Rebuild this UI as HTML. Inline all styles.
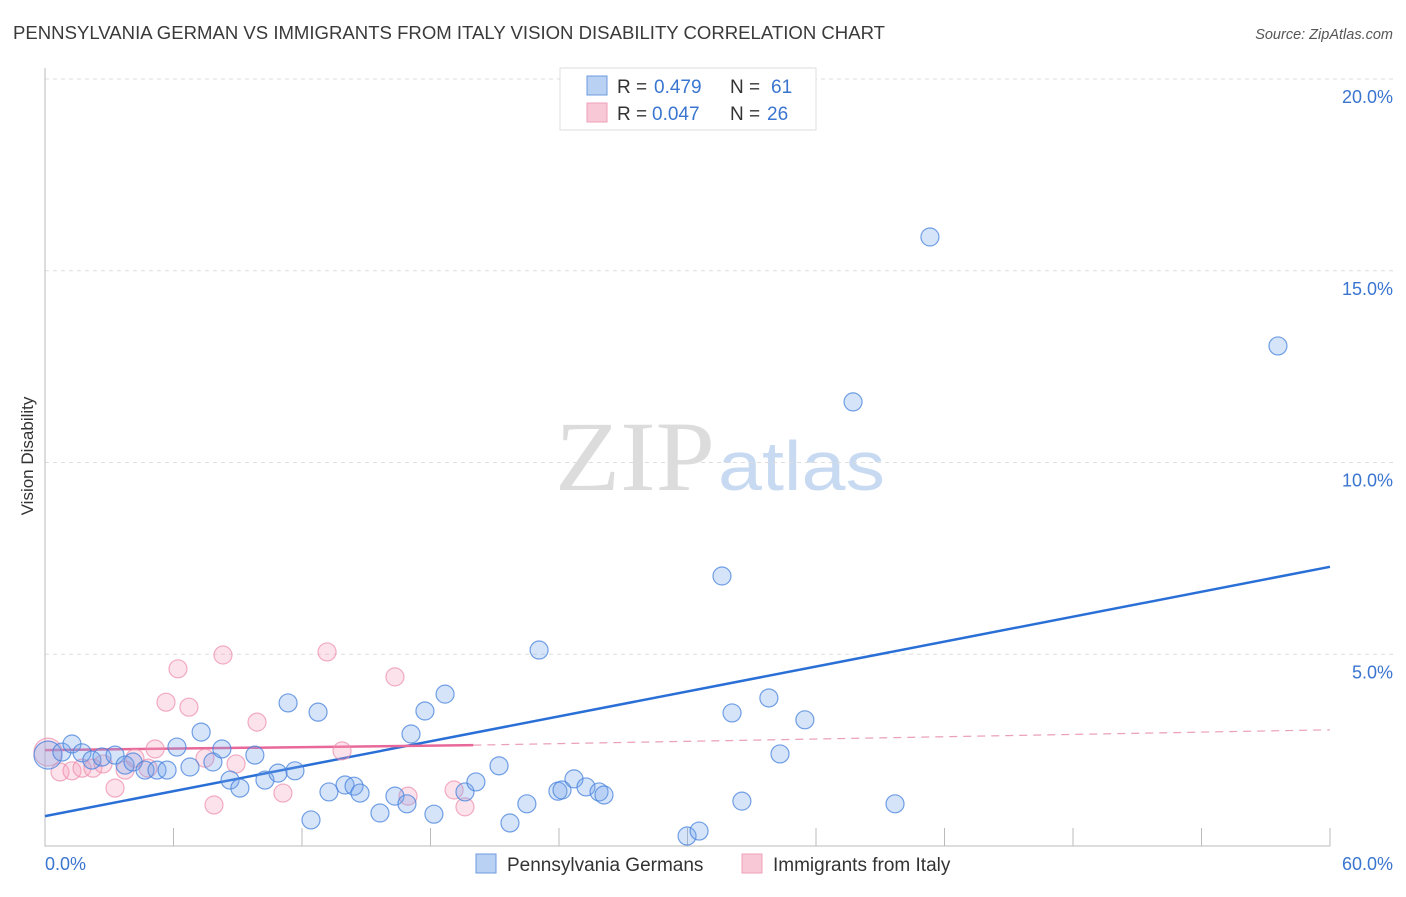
<!DOCTYPE html>
<html><head><meta charset="utf-8"><style>
body{margin:0;background:#fff;font-family:"Liberation Sans",sans-serif;}
</style></head><body>
<svg id="chart" width="1406" height="892" xmlns="http://www.w3.org/2000/svg" font-family="Liberation Sans, sans-serif">
<text x="13" y="39" font-size="18" fill="#3a3a3a" textLength="872" lengthAdjust="spacingAndGlyphs">PENNSYLVANIA GERMAN VS IMMIGRANTS FROM ITALY VISION DISABILITY CORRELATION CHART</text>
<text x="1393" y="39" font-size="14.5" fill="#555" text-anchor="end" font-style="italic">Source: ZipAtlas.com</text>
<text transform="translate(33,456) rotate(-90)" font-size="17" fill="#333" text-anchor="middle">Vision Disability</text>
<g><text x="555" y="490" font-size="100" fill="#dcdcdc" font-family="Liberation Serif, serif" textLength="160" lengthAdjust="spacingAndGlyphs">ZIP</text><text x="718" y="490" font-size="70" fill="#c8daf2" textLength="167" lengthAdjust="spacingAndGlyphs">atlas</text></g>
<g id="grid"></g><g id="axes"></g><g id="lines"></g><g id="pts"></g>
<g>
<rect x="560" y="68" width="256" height="62" fill="#fff" stroke="#ddd"/>
<rect x="587" y="76" width="20" height="19" fill="#b9d1f3" stroke="#6c9be0"/>
<text y="93" font-size="19" fill="#333"><tspan x="617">R =</tspan><tspan x="654" fill="#3a75d0">0.479</tspan><tspan x="730">N =</tspan><tspan x="771" fill="#3a75d0">61</tspan></text>
<rect x="587" y="103" width="20" height="19" fill="#f8c8d6" stroke="#f0a0b8"/>
<text y="120" font-size="19" fill="#333"><tspan x="617">R =</tspan><tspan x="652" fill="#3a75d0">0.047</tspan><tspan x="730">N =</tspan><tspan x="767" fill="#3a75d0">26</tspan></text>
</g>
<g>
<rect x="476" y="854" width="20" height="19" fill="#b9d1f3" stroke="#6c9be0"/>
<text x="507" y="871" font-size="19" fill="#333">Pennsylvania Germans</text>
<rect x="742" y="854" width="20" height="19" fill="#f8c8d6" stroke="#f0a0b8"/>
<text x="773" y="871" font-size="19" fill="#333">Immigrants from Italy</text>
</g>
</svg>
<script>
const blueX=[0.14,0.79,1.26,1.73,2.19,2.66,3.27,3.74,4.11,4.67,5.23,5.70,6.16,6.77,7.29,7.84,8.26,8.64,9.10,9.80,10.27,10.88,11.35,11.67,12.42,12.75,13.26,14.01,14.43,14.71,15.64,16.34,16.90,17.09,17.74,18.16,18.68,19.61,20.12,21.20,21.71,22.50,23.07,23.95,24.14,24.70,25.26,25.87,26.10,29.98,30.54,31.61,32.08,32.54,33.80,34.32,35.48,37.73,39.69,41.32,57.57];
const blueY=[2.37,2.45,2.66,2.43,2.24,2.32,2.37,2.11,2.19,1.98,1.98,1.98,2.58,2.06,2.97,2.19,2.53,1.72,1.51,2.37,1.72,1.90,3.73,1.96,0.68,3.49,1.41,1.59,1.56,1.38,0.86,1.30,1.10,2.92,3.52,0.83,3.96,1.41,1.67,2.09,0.60,1.10,5.11,1.43,1.46,1.75,1.54,1.41,1.33,0.26,0.39,7.04,3.47,1.17,3.86,2.40,3.29,11.58,1.10,15.88,13.04];
const pinkX=[0.14,0.70,1.26,1.73,2.24,2.71,3.27,3.74,4.20,4.81,5.14,5.65,6.21,6.72,7.47,7.89,8.31,8.92,9.90,11.11,13.17,13.87,16.34,16.95,19.10,19.61];
const pinkY=[2.45,1.93,1.96,2.03,2.03,2.14,1.51,1.98,2.29,2.03,2.53,3.75,4.62,3.62,2.29,1.07,4.98,2.14,3.23,1.38,5.06,2.48,4.41,1.30,1.46,1.02];
const yTicks=[5,10,15,20];
const yTickLabels=["5.0%","10.0%","15.0%","20.0%"];
const xTicks=[0,6,12,18,24,30,36,42,48,54,60];
const blueTrend=[0.78,7.28];
const pinkTrend=[2.50,2.63,3.03];
const X0=45,X1=1330,Y0=846,PPY=38.35;
const sx=v=>X0+(X1-X0)*v/60, sy=v=>Y0-v*PPY;
const NS="http://www.w3.org/2000/svg";
function mk(p,t,a){const e=document.createElementNS(NS,t);for(const k in a)e.setAttribute(k,a[k]);document.getElementById(p).appendChild(e);return e;}
yTicks.forEach((v,i)=>{
 const g=mk('grid','line',{x1:X0,x2:1395,y1:sy(v),y2:sy(v),stroke:'#ddd','stroke-dasharray':'4,4'});
 
 
 const t=mk('grid','text',{x:1393,y:sy(v)+24,'font-size':18,fill:'#3a75d0','text-anchor':'end'});t.textContent=yTickLabels[i];
 
 
});
const ax=mk('axes','path',{d:`M${X0},68V${Y0}H${X1}`,stroke:'#bbb',fill:'none'});


xTicks.forEach(v=>{if(v===0)return;const l=mk('axes','line',{x1:sx(v),x2:sx(v),y1:828,y2:Y0,stroke:'#bbb'});
 
 });
const xl0=mk('axes','text',{x:45,y:870,'font-size':18,fill:'#3a75d0'});xl0.textContent='0.0%';


const xl1=mk('axes','text',{x:1393,y:870,'font-size':18,fill:'#3a75d0','text-anchor':'end'});xl1.textContent='60.0%';


function dot(x,y,r,f,s,name){const c=mk('pts','circle',{cx:sx(x),cy:sy(y),r:r,fill:f,stroke:s,'stroke-width':1.2});
 
 }
pinkX.forEach((x,i)=>dot(x,pinkY[i],i===0?14:9,'rgba(244,160,188,0.3)','rgba(236,140,170,0.7)','pink-point'));
blueX.forEach((x,i)=>dot(x,blueY[i],i===0?14:9,'rgba(120,165,235,0.3)','rgba(70,130,220,0.75)','blue-point'));
const bl=mk('lines','line',{x1:sx(0),y1:sy(blueTrend[0]),x2:sx(60),y2:sy(blueTrend[1]),stroke:'#2a6fd6','stroke-width':2.5});


const pl=mk('lines','line',{x1:sx(0),y1:sy(pinkTrend[0]),x2:sx(20),y2:sy(pinkTrend[1]),stroke:'#e8689a','stroke-width':2.5});


const pd=mk('lines','line',{x1:sx(20),y1:sy(pinkTrend[1]),x2:sx(60),y2:sy(pinkTrend[2]),stroke:'#eba0ba','stroke-width':1.2,'stroke-dasharray':'8,6'});


</script>
</body></html>
